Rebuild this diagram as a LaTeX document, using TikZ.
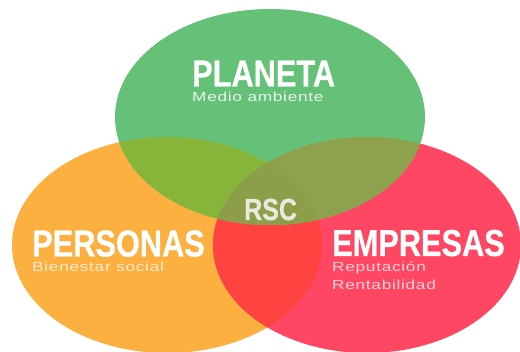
\documentclass[tikz,border=0pt]{standalone}
\usepackage{fontspec}
\setmainfont{Liberation Sans}
\newfontfamily\headfont[FakeBold=0.6]{Liberation Sans Bold}
\newfontfamily\subfont[LetterSpace=4]{Liberation Sans}
\definecolor{cgreen}{HTML}{65C178}
\definecolor{corange}{HTML}{FBB040}
\definecolor{cred}{HTML}{FF4763}
\definecolor{cgo}{HTML}{86B53A}
\definecolor{cgr}{HTML}{8EA24E}
\definecolor{cor}{HTML}{FE4340}
\definecolor{ccen}{HTML}{8C9E48}
\newcommand\hdtxt[1]{\scalebox{0.82}[1]{#1}}
\newcommand\sbtxt[1]{\scalebox{1.31}[1]{#1}}
\tikzset{
  head/.style={anchor=base west, inner sep=0pt, text depth=0pt, text=white, font=\headfont\fontsize{37.5}{40}\selectfont},
  rsc/.style={anchor=base west, inner sep=0pt, text depth=0pt, text=white!90!black!95!yellow, font=\headfont\fontsize{30.5}{32}\selectfont},
  sub/.style={anchor=base west, inner sep=0pt, text height=9.5pt, font=\subfont\fontsize{13.2}{15}\selectfont}
}
\begin{document}
\begin{tikzpicture}[x=1pt,y=-1pt]
\useasboundingbox (0,0) rectangle (520,352);
\def\Gr{(270,117) ellipse [x radius=155, y radius=108]}
\def\Or{(167,245) ellipse [x radius=155, y radius=108]}
\def\Re{(367,245) ellipse [x radius=154, y radius=108]}
\fill[white] (0,0) rectangle (520,352);
\fill[corange] \Or;
\fill[cred] \Re;
\begin{scope}\clip \Or; \fill[cor] \Re; \end{scope}
\fill[cgreen] \Gr;
\begin{scope}\clip \Or; \fill[cgo] \Gr; \end{scope}
\begin{scope}\clip \Re; \fill[cgr] \Gr; \clip \Or; \fill[ccen] \Gr; \end{scope}
\node[head] (planeta) at (192,86.5) {\hdtxt{PLANETA}};
\node[sub, text=white!85!cgreen] (medio) at (192,101.5) {\sbtxt{Medio ambiente}};
\node[rsc] (rsc) at (244,220) {\hdtxt{RSC}};
\node[head] (personas) at (32,256.5) {\hdtxt{PERSONAS}};
\node[sub, text=white!75!corange] (bien) at (32,271.5) {\sbtxt{Bienestar social}};
\node[head] (empresas) at (332,256) {\hdtxt{EMPRESAS}};
\node[sub, text=white!75!cred] (rep) at (332,271.5) {\sbtxt{Reputación}};
\node[sub, text=white!75!cred] (rent) at (332,289.5) {\sbtxt{Rentabilidad}};
\end{tikzpicture}
\end{document}
